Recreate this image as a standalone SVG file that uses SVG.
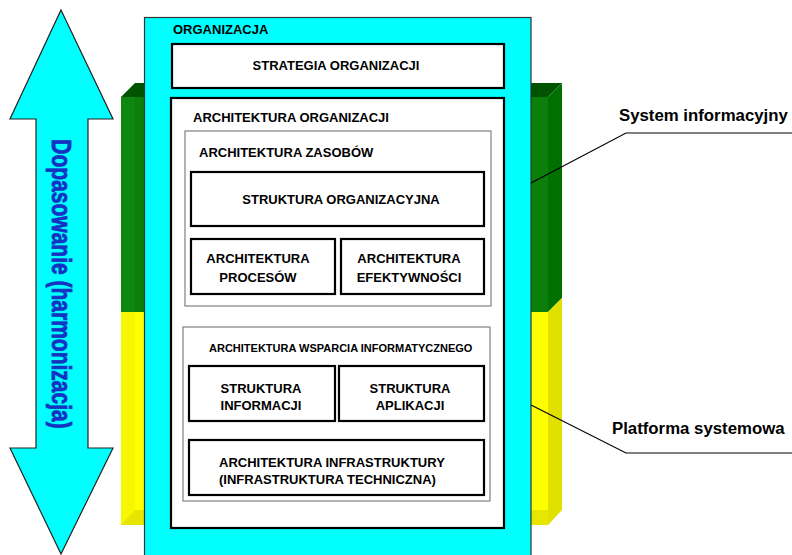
<svg xmlns="http://www.w3.org/2000/svg" width="792" height="555" viewBox="0 0 792 555">
  <style>
    text { font-family: "Liberation Sans", Arial, sans-serif; font-weight: bold; fill: #000; }
    .t13 { font-size: 13px; }
    .t12 { font-size: 13px; }
    .t11 { font-size: 11px; }
    .call { font-size: 16.8px; }
    .mid { text-anchor: middle; }
    .box { fill: #fff; stroke: #000; stroke-width: 2.2; }
    .group { fill: #fff; stroke: #808080; stroke-width: 1.2; }
    .lead { fill: none; stroke: #000; stroke-width: 1.2; }
  </style>
  <rect width="792" height="555" fill="#fff"/>

  <!-- fit arrow -->
  <g id="fit-arrow">
    <polygon points="61,10 113,119 88,119 88,448 113,448 61,554 10,448 36,448 36,119 10,119" fill="#00ffff" stroke="#222" stroke-width="1.2"/>
    <text transform="translate(52,284) rotate(90) scale(1,1.3)" x="0" y="0" text-anchor="middle" style="font-size:21px;fill:#1432c4;stroke:#1432c4;stroke-width:0.6">Dopasowanie (harmonizacja)</text>
  </g>

  <!-- layered bar: information system over system platform -->
  <g id="system-bar">
    <polygon points="121,97 135,83 562,83 548,97" fill="#005400"/>
    <rect x="121" y="97" width="427" height="215" fill="#0a7f0a"/>
    <rect x="121" y="97" width="14" height="215" fill="#0d870d"/>
    <polygon points="548,97 562,83 562,298 548,312" fill="#007000"/>
    <rect x="121" y="312" width="427" height="213" fill="#ffff00"/>
    <rect x="121" y="312" width="14" height="213" fill="#f7f700"/>
    <polygon points="121,525 135,510 548,510 548,525" fill="#e6e600"/>
    <polygon points="548,312 562,298 562,510 548,525" fill="#e1e100"/>
  </g>

  <!-- organisation frame -->
  <g id="organizacja">
    <rect x="144.5" y="17.5" width="386.5" height="545" fill="#00ffff" stroke="#333" stroke-width="1.2"/>
    <text class="t13" x="173" y="34">ORGANIZACJA</text>
  </g>

  <g id="strategia">
    <rect class="box" x="172" y="44" width="332" height="44"/>
    <text class="t13 mid" x="336" y="70">STRATEGIA ORGANIZACJI</text>
  </g>

  <g id="architektura-organizacji">
    <rect class="box" x="171" y="98" width="333" height="430"/>
    <text class="t13" x="193" y="122">ARCHITEKTURA ORGANIZACJI</text>
  </g>

  <g id="architektura-zasobow">
    <rect class="group" x="185" y="131" width="306" height="175"/>
    <text class="t13" x="199" y="157">ARCHITEKTURA ZASOBÓW</text>
  </g>

  <g id="struktura-organizacyjna">
    <rect class="box" x="191" y="172" width="293" height="54"/>
    <text class="t13 mid" x="341" y="204">STRUKTURA ORGANIZACYJNA</text>
  </g>

  <g id="architektura-procesow">
    <rect class="box" x="191" y="239" width="144" height="55"/>
    <text class="t12 mid" x="258" y="263">ARCHITEKTURA</text>
    <text class="t12 mid" x="258" y="282">PROCESÓW</text>
  </g>

  <g id="architektura-efektywnosci">
    <rect class="box" x="341" y="239" width="143" height="55"/>
    <text class="t12 mid" x="409" y="263">ARCHITEKTURA</text>
    <text class="t12 mid" x="409" y="282">EFEKTYWNOŚCI</text>
  </g>

  <g id="architektura-wsparcia">
    <rect class="group" x="183" y="327" width="307" height="174"/>
    <text class="t11" x="209" y="352">ARCHITEKTURA WSPARCIA INFORMATYCZNEGO</text>
  </g>

  <g id="struktura-informacji">
    <rect class="box" x="189" y="366" width="146" height="55"/>
    <text class="t12 mid" x="261" y="393">STRUKTURA</text>
    <text class="t12 mid" x="261" y="410">INFORMACJI</text>
  </g>

  <g id="struktura-aplikacji">
    <rect class="box" x="339" y="366" width="145" height="55"/>
    <text class="t12 mid" x="410" y="393">STRUKTURA</text>
    <text class="t12 mid" x="410" y="410">APLIKACJI</text>
  </g>

  <g id="architektura-infrastruktury">
    <rect class="box" x="189" y="440" width="295" height="55"/>
    <text class="t12" x="219" y="467">ARCHITEKTURA INFRASTRUKTURY</text>
    <text class="t12" x="219" y="484">(INFRASTRUKTURA TECHNICZNA)</text>
  </g>

  <!-- callout labels -->
  <g id="connectors">
    <polyline class="lead" points="531,183 626,133 792,133"/>
    <polyline class="lead" points="531,405 626,453 792,453"/>
  </g>
  <g id="system-informacyjny">
    <text class="call" x="619" y="121">System informacyjny</text>
  </g>
  <g id="platforma-systemowa">
    <text class="call" x="612" y="434">Platforma systemowa</text>
  </g>
</svg>
